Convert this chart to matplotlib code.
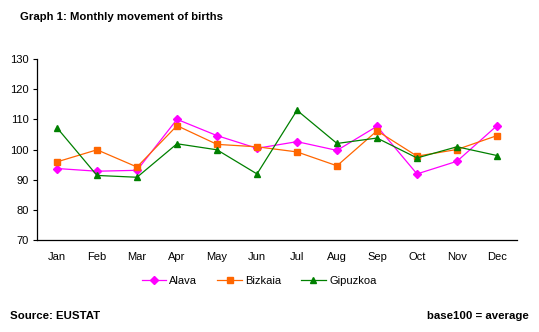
import matplotlib
matplotlib.use("Agg")
import matplotlib.pyplot as plt

plt.rcParams['font.family'] = ['Liberation Sans', 'DejaVu Sans']

months = ['Jan', 'Feb', 'Mar', 'Apr', 'May', 'Jun', 'Jul', 'Aug', 'Sep', 'Oct', 'Nov', 'Dec']
alava = [93.7, 92.8, 93.1, 110.0, 104.6, 100.4, 102.6, 99.7, 107.7, 91.9, 96.1, 107.9]
bizkaia = [95.9, 99.9, 94.2, 107.9, 101.7, 100.9, 99.2, 94.6, 106.2, 97.8, 100.0, 104.6]
gipuzkoa = [107.2, 91.4, 90.8, 101.9, 99.9, 91.9, 113.0, 102.0, 103.8, 97.2, 100.9, 98.0]

fig = plt.figure(figsize=(5.39, 3.32), dpi=100)
ax = fig.add_axes([37 / 539, 92 / 332, 480 / 539, 181 / 332])

x = range(len(months))
ax.plot(x, alava, color='#FF00FF', marker='D', markersize=4.5, lw=0.9, label='Alava')
ax.plot(x, bizkaia, color='#FF6600', marker='s', markersize=4.5, lw=0.9, label='Bizkaia')
ax.plot(x, gipuzkoa, color='#008000', marker='^', markersize=5, lw=0.9, label='Gipuzkoa')

ax.set_xlim(-0.5, 11.5)
ax.set_ylim(70, 130)
ax.set_yticks(range(70, 131, 10))
ax.set_xticks(list(x))
ax.set_xticklabels(months)
ax.tick_params(axis='x', length=0, pad=9, labelsize=8)
ax.tick_params(axis='y', length=3, width=0.8, pad=3, labelsize=8)
for s in ['top', 'right']:
    ax.spines[s].set_visible(False)
for s in ['left', 'bottom']:
    ax.spines[s].set_linewidth(0.9)

ax.legend(loc='center', bbox_to_anchor=(0.5 - 18 / 480, -0.227), ncol=3, frameon=False,
          fontsize=8, handlelength=2.2, columnspacing=1.8, handletextpad=0.3)

fig.text(20 / 539, 1 - 17 / 332, 'Graph 1: Monthly movement of births',
         fontsize=8.2, fontweight='bold', va='center', ha='left')
fig.text(10 / 539, 1 - 316 / 332, 'Source: EUSTAT',
         fontsize=8.2, fontweight='bold', va='center', ha='left')
fig.text(529 / 539, 1 - 316 / 332, 'base100 = average',
         fontsize=8.2, fontweight='bold', va='center', ha='right')

fig.savefig('out.png', dpi=100)
